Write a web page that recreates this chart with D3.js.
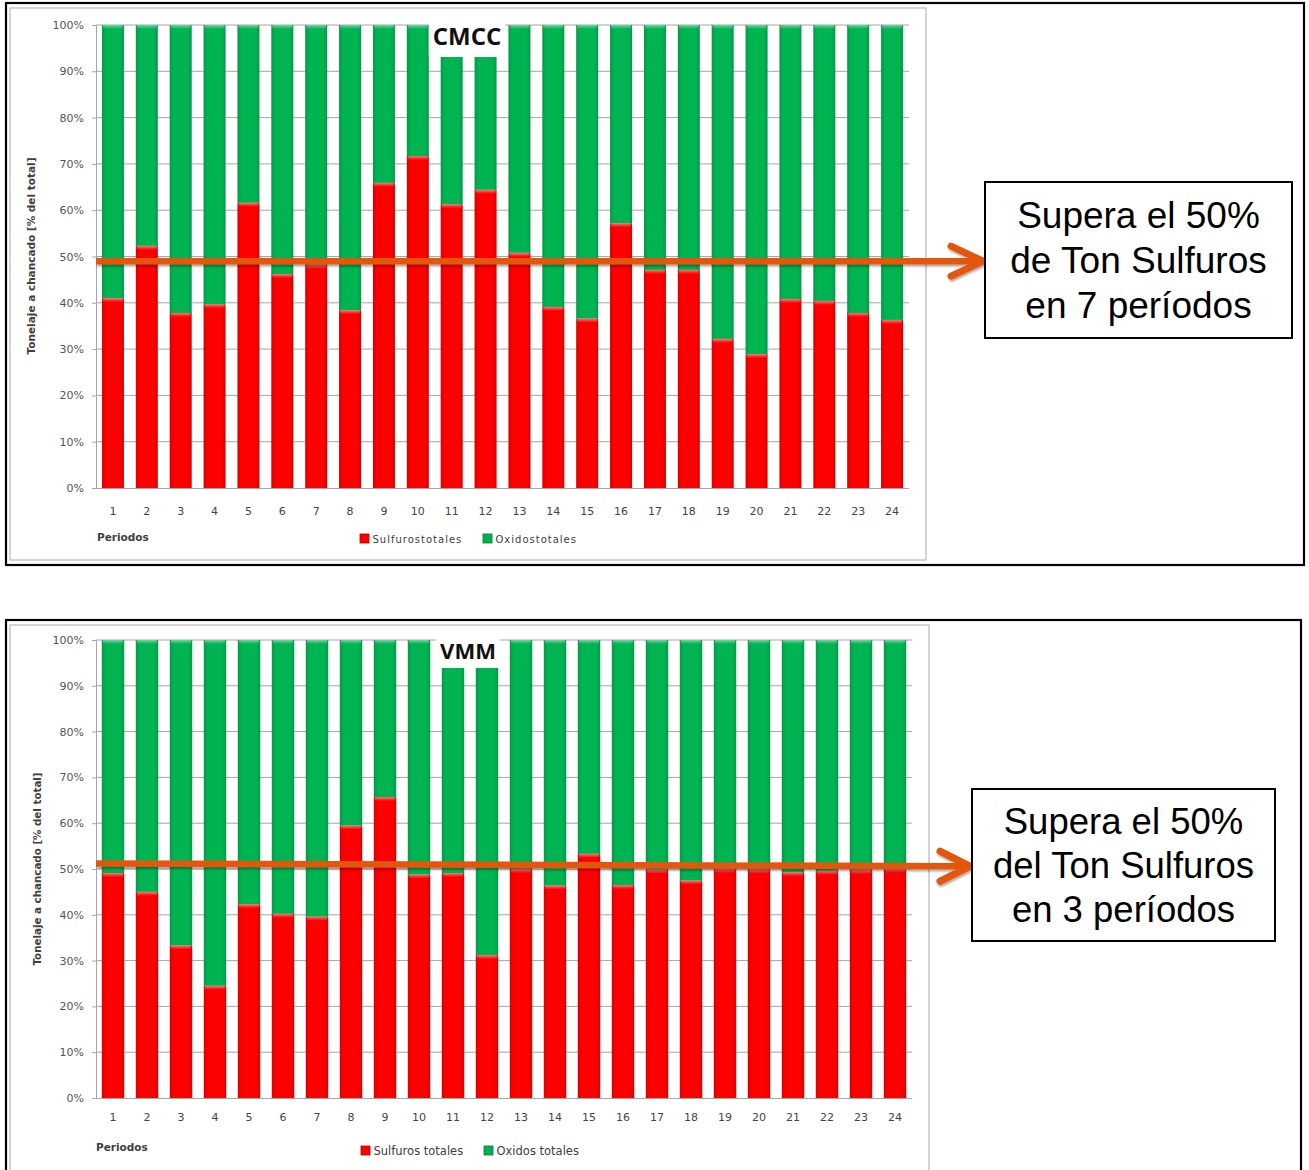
<!DOCTYPE html>
<html>
<head>
<meta charset="utf-8">
<script src="https://cdn.jsdelivr.net/npm/d3@7"></script>
<style>
  body { margin: 0; background: #fff; }
  svg { display: block; }
</style>
</head>
<body>
<svg id="chart" width="1309" height="1170"></svg>
<script>
// Periods on the x axis
const periodos = ["1","2","3","4","5","6","7","8","9","10","11","12",
                  "13","14","15","16","17","18","19","20","21","22","23","24"];

// CMCC: share of crushed tonnage per period [% of total]
const cmccSulfuros = [41.0, 52.3, 37.8, 39.7, 61.6, 46.2, 48.2, 38.4, 65.9, 71.7, 61.3, 64.4,
                      50.8, 39.1, 36.6, 57.2, 47.1, 47.1, 32.2, 28.9, 40.8, 40.4, 37.8, 36.3];
const cmccOxidos   = [59.0, 47.7, 62.2, 60.3, 38.4, 53.8, 51.8, 61.6, 34.1, 28.3, 38.7, 35.6,
                      49.2, 60.9, 63.4, 42.8, 52.9, 52.9, 67.8, 71.1, 59.2, 59.6, 62.2, 63.7];

// VMM: share of crushed tonnage per period [% of total]
const vmmSulfuros  = [49.1, 45.0, 33.3, 24.5, 42.3, 40.2, 39.6, 59.5, 65.7, 48.8, 49.1, 31.2,
                      50.0, 46.4, 53.3, 46.5, 49.9, 47.5, 50.0, 49.9, 49.3, 49.6, 49.8, 50.0];
const vmmOxidos    = [50.9, 55.0, 66.7, 75.5, 57.7, 59.8, 60.4, 40.5, 34.3, 51.2, 50.9, 68.8,
                      50.0, 53.6, 46.7, 53.5, 50.1, 52.5, 50.0, 50.1, 50.7, 50.4, 50.2, 50.0];

// Y axis ticks (fraction of total)
const yTicks = [0, 0.1, 0.2, 0.3, 0.4, 0.5, 0.6, 0.7, 0.8, 0.9, 1.0];

// Text of the two panels
const yTitle = "Tonelaje a chancado [% del total]";
const xTitle = "Periodos";
const cmccLegend = ["Sulfurostotales", "Oxidostotales"];
const vmmLegend  = ["Sulfuros totales", "Oxidos totales"];
const cmccNote = ["Supera el 50%", "de Ton Sulfuros", "en 7 períodos"];
const vmmNote  = ["Supera el 50%", "del Ton Sulfuros", "en 3 períodos"];
// Reference level marked by the orange arrow (start / end, % of total)
const cmccLevel = [49.0, 49.0];
const vmmLevel  = [51.2, 50.6];

const svg = d3.select("#chart");
const defs = svg.append("defs");

// Column shading: darker edges, bright centre
function hGrad(id, edge, mid) {
  const g = defs.append("linearGradient").attr("id", id)
    .attr("x1", "0").attr("x2", "1").attr("y1", "0").attr("y2", "0");
  g.append("stop").attr("offset", "0").attr("stop-color", edge);
  g.append("stop").attr("offset", "0.18").attr("stop-color", mid);
  g.append("stop").attr("offset", "0.82").attr("stop-color", mid);
  g.append("stop").attr("offset", "1").attr("stop-color", edge);
}
hGrad("gradRed", "#d80000", "#ff0000");
hGrad("gradGreen", "#06984a", "#00b452");
const hl = defs.append("linearGradient").attr("id", "gradCap")
  .attr("x1", "0").attr("x2", "0").attr("y1", "0").attr("y2", "1");
hl.append("stop").attr("offset", "0").attr("stop-color", "#fff").attr("stop-opacity", 0.45);
hl.append("stop").attr("offset", "1").attr("stop-color", "#fff").attr("stop-opacity", 0);

const shadow = defs.append("filter").attr("id", "arrowShadow")
  .attr("x", "-5%").attr("y", "-50%").attr("width", "110%").attr("height", "200%");
shadow.append("feDropShadow").attr("dx", 1).attr("dy", 2).attr("stdDeviation", 1.2)
  .attr("flood-color", "#000").attr("flood-opacity", 0.35);

const colors = { sulfuros: "url(#gradRed)", oxidos: "url(#gradGreen)" };
const legendColors = { sulfuros: "#ff0000", oxidos: "#00b050" };

function drawPanel(cfg) {
  // Frames
  svg.append("rect").attr("x", cfg.outer[0]).attr("y", cfg.outer[1])
    .attr("width", cfg.outer[2]).attr("height", cfg.outer[3])
    .attr("fill", "none").attr("stroke", "#000").attr("stroke-width", 2.2);
  svg.append("rect").attr("x", cfg.inner[0]).attr("y", cfg.inner[1])
    .attr("width", cfg.inner[2]).attr("height", cfg.inner[3])
    .attr("fill", "#fff").attr("stroke", "#b8b8b8").attr("stroke-width", 1.2);

  const rows = periodos.map((p, i) => ({ periodo: p, sulfuros: cfg.sulf[i], oxidos: cfg.oxid[i] }));
  const series = d3.stack().keys(["sulfuros", "oxidos"]).offset(d3.stackOffsetExpand)(rows);

  const x = d3.scaleBand().domain(periodos).range([cfg.x0, cfg.x1])
    .paddingInner(cfg.pad).paddingOuter(cfg.pad / 2);
  const y = d3.scaleLinear().domain([0, 1]).range([cfg.yBottom, cfg.yTop]);

  const g = svg.append("g");

  // Gridlines
  g.append("g").selectAll("line").data(yTicks.slice(1)).join("line")
    .attr("x1", cfg.x0).attr("x2", cfg.x1)
    .attr("y1", d => y(d)).attr("y2", d => y(d))
    .attr("stroke", "#a6a6a6").attr("stroke-width", 1);

  // Y axis
  const yAxis = g.append("g").attr("transform", `translate(${cfg.x0},0)`)
    .call(d3.axisLeft(y).tickValues(yTicks).tickFormat(d3.format(".0%")).tickSize(4).tickPadding(8));
  yAxis.select(".domain").attr("stroke", "#a6a6a6");
  yAxis.selectAll(".tick line").attr("stroke", "#a6a6a6");
  yAxis.selectAll("text").attr("fill", "#555")
    .style("font-family", "'DejaVu Sans', sans-serif").style("font-size", cfg.tickFont);

  // Stacked columns
  const layers = g.append("g").selectAll("g").data(series).join("g")
    .attr("fill", d => colors[d.key]);
  layers.selectAll("rect.bar").data(d => d).join("rect").attr("class", "bar")
    .attr("x", d => x(d.data.periodo))
    .attr("width", x.bandwidth())
    .attr("y", d => y(d[1]))
    .attr("height", d => y(d[0]) - y(d[1]));
  layers.selectAll("rect.cap").data(d => d).join("rect").attr("class", "cap")
    .attr("x", d => x(d.data.periodo) + 1)
    .attr("width", x.bandwidth() - 2)
    .attr("y", d => y(d[1]))
    .attr("height", 4)
    .attr("fill", "url(#gradCap)");

  // X axis
  const xAxis = g.append("g").attr("transform", `translate(0,${cfg.yBottom})`)
    .call(d3.axisBottom(x).tickSize(0).tickPadding(cfg.xPad));
  xAxis.select(".domain").attr("stroke", "#a6a6a6").attr("d", `M${cfg.x0},0.5H${cfg.x1}`);
  xAxis.selectAll("text").attr("fill", "#444")
    .style("font-family", "'DejaVu Sans', sans-serif").style("font-size", cfg.tickFont);

  // Axis titles
  svg.append("text")
    .attr("transform", `translate(${cfg.yTitlePos[0]},${cfg.yTitlePos[1]}) rotate(-90)`)
    .attr("text-anchor", "middle")
    .style("font-family", "'DejaVu Sans', sans-serif").style("font-weight", "bold")
    .style("font-size", cfg.yTitleFont).attr("fill", "#404040")
    .text(yTitle);
  svg.append("text").attr("x", cfg.xTitlePos[0]).attr("y", cfg.xTitlePos[1])
    .style("font-family", "'DejaVu Sans', sans-serif").style("font-weight", "bold")
    .style("font-size", "10.5px").attr("fill", "#404040")
    .text(xTitle);

  // Legend
  const keys = ["sulfuros", "oxidos"];
  const lg = svg.append("g");
  keys.forEach((k, i) => {
    lg.append("rect").attr("x", cfg.legendX[i]).attr("y", cfg.legendY - 9)
      .attr("width", 9).attr("height", 9)
      .attr("fill", legendColors[k]).attr("stroke", k === "sulfuros" ? "#b00000" : "#067a3a").attr("stroke-width", 0.8);
    lg.append("text").attr("x", cfg.legendX[i] + 12.5).attr("y", cfg.legendY)
      .style("font-family", "'DejaVu Sans', sans-serif")
      .style("font-size", cfg.legendFont).style("letter-spacing", cfg.legendSpacing)
      .attr("fill", "#404040")
      .text(cfg.legend[i]);
  });

  // Chart title with its white backing
  const tb = svg.append("g");
  const bg = tb.append("rect").attr("fill", "#fff");
  const tt = tb.append("text").attr("x", cfg.titleX).attr("y", cfg.titleY)
    .attr("text-anchor", "middle")
    .style("font-family", "'Open Sans', sans-serif").style("font-weight", "bold")
    .style("font-size", cfg.titleFont).attr("fill", "#111")
    .text(cfg.title);
  const bb = tt.node().getBBox();
  bg.attr("x", bb.x - 4).attr("width", bb.width + 8)
    .attr("y", cfg.yTop - 4).attr("height", cfg.titleBoxBottom - cfg.yTop + 4);

  // Orange reference arrow
  const ya = cfg.level.map(v => y(v / 100));
  const tip = cfg.arrowTip;
  const ag = svg.append("g").attr("filter", "url(#arrowShadow)")
    .attr("stroke", "#e2560d").attr("fill", "none")
    .attr("stroke-linecap", "round").attr("stroke-linejoin", "round");
  ag.append("line").attr("x1", cfg.x0).attr("y1", ya[0])
    .attr("x2", tip - 6).attr("y2", ya[1]).attr("stroke-width", 6.5).attr("stroke-linecap", "butt");
  ag.append("path")
    .attr("d", `M${tip - cfg.headLen},${ya[1] - cfg.headHalf}L${tip},${ya[1]}L${tip - cfg.headLen},${ya[1] + cfg.headHalf}`)
    .attr("stroke-width", 7);

  // Annotation box
  svg.append("rect").attr("x", cfg.note[0]).attr("y", cfg.note[1])
    .attr("width", cfg.note[2]).attr("height", cfg.note[3])
    .attr("fill", "#fff").attr("stroke", "#000").attr("stroke-width", 2);
  svg.append("g").selectAll("text").data(cfg.noteText).join("text")
    .attr("x", cfg.note[0] + cfg.note[2] / 2)
    .attr("y", (d, i) => cfg.noteBase + i * cfg.noteStep)
    .attr("text-anchor", "middle")
    .style("font-family", "'Liberation Sans', Arial, sans-serif")
    .style("font-size", cfg.noteFont).attr("fill", "#000")
    .text(d => d);
}

drawPanel({
  outer: [6, 3, 1298, 562], inner: [10, 8, 916, 552],
  sulf: cmccSulfuros, oxid: cmccOxidos,
  x0: 96, x1: 909, pad: 0.35, yTop: 25, yBottom: 488,
  tickFont: "11px", xPad: 19,
  yTitlePos: [35, 256], yTitleFont: "10.5px", xTitlePos: [97, 541],
  legend: cmccLegend, legendX: [360, 483], legendY: 543, legendFont: "10px", legendSpacing: "1px",
  title: "CMCC", titleX: 467, titleY: 45, titleFont: "24px", titleBoxBottom: 57,
  level: cmccLevel, arrowTip: 983, headLen: 32, headHalf: 15,
  note: [985, 182, 307, 156], noteText: cmccNote, noteFont: "37px", noteBase: 228, noteStep: 45
});

drawPanel({
  outer: [6, 620, 1295, 560], inner: [10, 625, 919, 560],
  sulf: vmmSulfuros, oxid: vmmOxidos,
  x0: 96, x1: 912, pad: 0.34, yTop: 640, yBottom: 1098,
  tickFont: "11px", xPad: 15,
  yTitlePos: [41, 869], yTitleFont: "10.3px", xTitlePos: [96, 1151],
  legend: vmmLegend, legendX: [361, 484], legendY: 1155, legendFont: "11.5px", legendSpacing: "0px",
  title: "VMM", titleX: 468, titleY: 659, titleFont: "22px", titleBoxBottom: 668,
  level: vmmLevel, arrowTip: 970, headLen: 30, headHalf: 15,
  note: [972, 789, 303, 152], noteText: vmmNote, noteFont: "36.5px", noteBase: 834, noteStep: 44
});
</script>
</body>
</html>
